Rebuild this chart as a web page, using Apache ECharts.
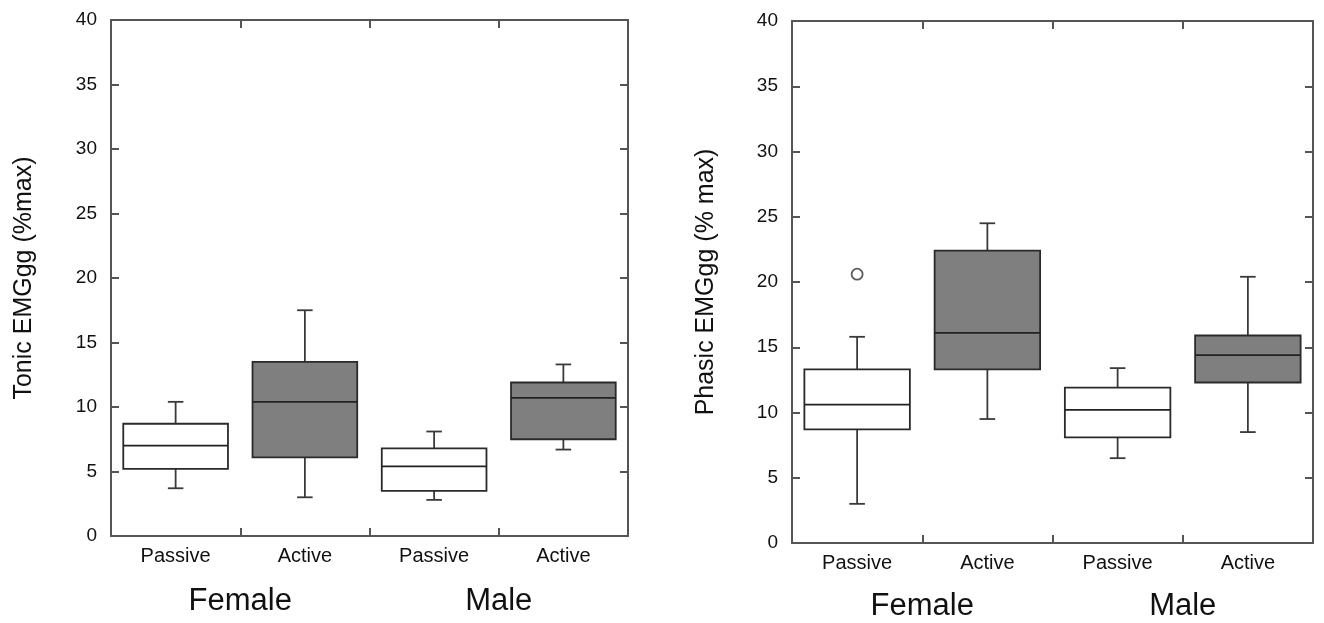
<!DOCTYPE html>
<html>
<head>
<meta charset="utf-8">
<script src="https://cdn.jsdelivr.net/npm/echarts@6/dist/echarts.min.js"></script>
<style>
	html, body { margin: 0; padding: 0; background: #fff; }
	#main { width: 1324px; height: 623px; }
</style>
</head>
<body>
<div id="main"></div>
<script>
// box stats per column: [low whisker, Q1, median, Q3, high whisker]
var conditions = ['Passive', 'Active', 'Passive', 'Active'];
var groups = ['Female', 'Male'];
var yTicks = [0, 5, 10, 15, 20, 25, 30, 35, 40];

var tonicStats = [
	[3.7, 5.2, 7.0, 8.7, 10.4],
	[3.0, 6.1, 10.4, 13.5, 17.5],
	[2.8, 3.5, 5.4, 6.8, 8.1],
	[6.7, 7.5, 10.7, 11.9, 13.3]
];
var phasicStats = [
	[3.0, 8.7, 10.6, 13.3, 15.8],
	[9.5, 13.3, 16.1, 22.4, 24.5],
	[6.5, 8.1, 10.2, 11.9, 13.4],
	[8.5, 12.3, 14.4, 15.9, 20.4]
];
// [column index, value]
var phasicOutliers = [[0, 20.6]];

var FONT = 'Liberation Sans';
var frameColor = '#555';

function renderBox(params, api) {
	var x = api.value(0);
	var lo = api.coord([x, api.value(1)]);
	var q1 = api.coord([x, api.value(2)]);
	var md = api.coord([x, api.value(3)]);
	var q3 = api.coord([x, api.value(4)]);
	var hi = api.coord([x, api.value(5)]);
	var band = api.size([1, 0])[0];
	var hw = band * 0.405;
	var cw = band * 0.06;
	var cx = lo[0];
	var fill = x % 2 ? '#7f7f7f' : '#fff';
	var wStyle = { stroke: '#3a3a3a', lineWidth: 1.8 };
	var bStyle = { fill: fill, stroke: '#2a2a2a', lineWidth: 1.8 };
	return {
		type: 'group',
		children: [
			{ type: 'line', shape: { x1: cx, y1: q3[1], x2: cx, y2: hi[1] }, style: wStyle },
			{ type: 'line', shape: { x1: cx, y1: q1[1], x2: cx, y2: lo[1] }, style: wStyle },
			{ type: 'line', shape: { x1: cx - cw, y1: hi[1], x2: cx + cw, y2: hi[1] }, style: wStyle },
			{ type: 'line', shape: { x1: cx - cw, y1: lo[1], x2: cx + cw, y2: lo[1] }, style: wStyle },
			{ type: 'rect', shape: { x: cx - hw, y: q3[1], width: hw * 2, height: q1[1] - q3[1] }, style: bStyle },
			{ type: 'line', shape: { x1: cx - hw, y1: md[1], x2: cx + hw, y2: md[1] }, style: { stroke: '#222', lineWidth: 1.8 } }
		]
	};
}

function toRows(stats) {
	var rows = [];
	for (var i = 0; i < stats.length; i++) {
		rows.push([i].concat(stats[i]));
	}
	return rows;
}

var panelBoxes = [
	{ left: 111, top: 20, width: 517, height: 516 },
	{ left: 792, top: 21, width: 521, height: 522 }
];
var yNames = ['Tonic EMGgg (%max)', 'Phasic EMGgg (% max)'];
var yNameGaps = [74, 73];
var groupMargins = [50, 48];

// grids 0,1 = panels; grids 2,3 = same rects, only carry the Female/Male labels
var grids = panelBoxes.concat(panelBoxes.map(function(b) {
	return { left: b.left, top: b.top, width: b.width, height: b.height };
}));

function frameTick() {
	return { show: true, inside: true, length: 8, lineStyle: { color: frameColor, width: 2 } };
}
function frameLine() {
	return { show: true, onZero: false, lineStyle: { color: frameColor, width: 2 } };
}

var xAxes = [];
var yAxes = [];
panelBoxes.forEach(function(g, i) {
	xAxes.push({
		type: 'category', gridIndex: i, data: conditions, position: 'bottom',
		axisLine: frameLine(), axisTick: frameTick(),
		axisLabel: { color: '#111', fontFamily: FONT, fontSize: 20, margin: 10 },
		splitLine: { show: false }
	});
	// top frame edge: ticks at the column boundaries
	xAxes.push({
		type: 'value', gridIndex: i, min: 0, max: conditions.length, interval: 1, position: 'top',
		axisLine: frameLine(), axisTick: frameTick(),
		axisLabel: { show: false }, splitLine: { show: false }
	});
	yAxes.push({
		type: 'value', gridIndex: i, min: 0, max: 40, interval: 5, position: 'left',
		name: yNames[i], nameLocation: 'middle', nameGap: yNameGaps[i],
		nameTextStyle: { color: '#111', fontFamily: FONT, fontSize: 25 },
		axisLine: frameLine(), axisTick: frameTick(),
		axisLabel: { color: '#111', fontFamily: FONT, fontSize: 19, margin: 14,
			formatter: function(v) { return yTicks.indexOf(v) >= 0 ? String(v) : ''; } },
		splitLine: { show: false }
	});
	yAxes.push({
		type: 'value', gridIndex: i, min: 0, max: 40, interval: 5, position: 'right',
		axisLine: frameLine(), axisTick: frameTick(),
		axisLabel: { show: false }, splitLine: { show: false }
	});
});
panelBoxes.forEach(function(g, i) {
	xAxes.push({
		type: 'category', gridIndex: 2 + i, data: groups, position: 'bottom',
		axisLine: { show: false }, axisTick: { show: false }, splitLine: { show: false },
		axisLabel: { color: '#111', fontFamily: FONT, fontSize: 31, margin: groupMargins[i] }
	});
	yAxes.push({ type: 'value', gridIndex: 2 + i, show: false, min: 0, max: 1 });
});

var myChart = echarts.init(document.getElementById('main'), null, { renderer: 'canvas' });
var option = {
	backgroundColor: '#fff',
	animation: false,
	grid: grids,
	xAxis: xAxes,
	yAxis: yAxes,
	series: [
		{
			type: 'custom', xAxisIndex: 0, yAxisIndex: 0,
			renderItem: renderBox, data: toRows(tonicStats),
			encode: { x: 0, y: [1, 2, 3, 4, 5] }
		},
		{
			type: 'custom', xAxisIndex: 2, yAxisIndex: 2,
			renderItem: renderBox, data: toRows(phasicStats),
			encode: { x: 0, y: [1, 2, 3, 4, 5] }
		},
		{
			type: 'scatter', xAxisIndex: 2, yAxisIndex: 2,
			data: phasicOutliers, symbol: 'circle', symbolSize: 11,
			itemStyle: { color: '#fff', borderColor: '#333', borderWidth: 1.8 }
		}
	]
};
myChart.setOption(option);
</script>
</body>
</html>
